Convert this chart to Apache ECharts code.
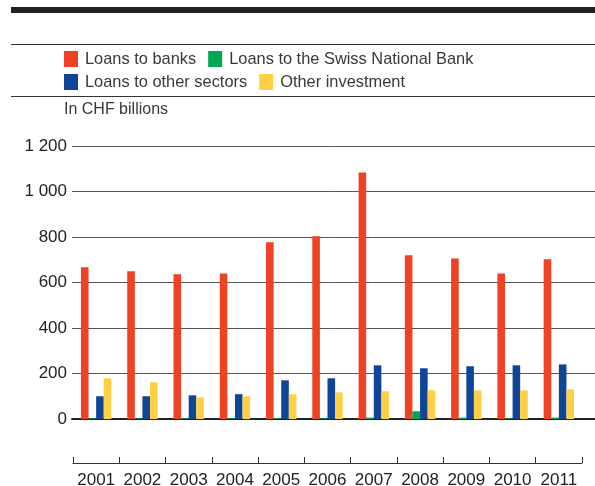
<!DOCTYPE html>
<html>
<head>
<meta charset="utf-8">
<script src="https://cdn.jsdelivr.net/npm/echarts@6/dist/echarts.min.js"></script>
<style>
  html, body { margin: 0; padding: 0; background: #fff; }
  #chart { width: 595px; height: 486px; }
</style>
</head>
<body>
<div id="chart"></div>
<script>
// Foreign assets by type, CHF billions
const years = ['2001', '2002', '2003', '2004', '2005', '2006', '2007', '2008', '2009', '2010', '2011'];
const loansToBanks = [667, 649, 636, 640, 777, 803, 1084, 720, 706, 640, 702];
const loansToSNB = [3, 3, 3, 3, 3, 3, 6, 34, 6, 3, 6];
const loansToOtherSectors = [100, 100, 104, 109, 170, 179, 236, 223, 232, 236, 240];
const otherInvestment = [179, 161, 95, 100, 109, 117, 122, 126, 126, 126, 131];
const yTicks = [0, 200, 400, 600, 800, 1000, 1200];

const FONT = '"Liberation Sans", Arial, sans-serif';
const TEXT = '#383838';

const chart = echarts.init(document.getElementById('chart'), null, { renderer: 'canvas' });

function makeBar(name, data, color) {
  return {
    name: name,
    type: 'bar',
    xAxisIndex: 1,
    yAxisIndex: 1,
    data: data,
    barWidth: 7.6,
    barGap: '0%',
    itemStyle: { color: color },
    emphasis: { disabled: true }
  };
}

const legendText = { fontFamily: FONT, fontSize: 16.4, color: TEXT, padding: [0, 0, 0, 2] };

chart.setOption({
  animation: false,
  backgroundColor: '#fff',
  textStyle: { fontFamily: FONT },
  title: {
    text: 'In CHF billions',
    left: 64,
    top: 102,
    padding: 0,
    textStyle: { fontFamily: FONT, fontSize: 16, fontWeight: 'normal', color: TEXT }
  },
  legend: [
    {
      data: ['Loans to banks', 'Loans to the Swiss National Bank'],
      left: 64, top: 51, padding: 0,
      itemWidth: 14, itemHeight: 16, itemGap: 12, icon: 'rect',
      selectedMode: false,
      textStyle: legendText
    },
    {
      data: ['Loans to other sectors', 'Other investment'],
      left: 64, top: 74, padding: 0,
      itemWidth: 14, itemHeight: 16, itemGap: 12, icon: 'rect',
      selectedMode: false,
      textStyle: legendText
    }
  ],
  graphic: [
    { type: 'rect', shape: { x: 11, y: 7, width: 584, height: 6 }, style: { fill: '#222' } },
    { type: 'line', shape: { x1: 11, y1: 44.5, x2: 595, y2: 44.5 }, style: { stroke: '#333', lineWidth: 1 } },
    { type: 'line', shape: { x1: 11, y1: 96.5, x2: 595, y2: 96.5 }, style: { stroke: '#333', lineWidth: 1 } }
  ],
  grid: [
    // value scale with gridlines running to the right edge
    { left: 72, right: 0, top: 146, bottom: 67, outerBoundsMode: 'none', containLabel: false },
    // bars and year axis
    { left: 73, right: 13, top: 146, bottom: 67, outerBoundsMode: 'none', containLabel: false }
  ],
  xAxis: [
    {
      gridIndex: 0, type: 'value', min: 0, max: 1,
      axisLine: { show: true, onZero: false, lineStyle: { color: '#222', width: 2 } },
      axisTick: { show: false }, axisLabel: { show: false }, splitLine: { show: false }
    },
    {
      gridIndex: 1, type: 'category', data: years,
      offset: 44,
      axisLine: { show: true, onZero: false, lineStyle: { color: '#333', width: 1 } },
      axisTick: { show: true, inside: true, length: 6, interval: 0, lineStyle: { color: '#333' } },
      axisLabel: { fontFamily: FONT, fontSize: 17, color: '#222', margin: 9, interval: 0 },
      splitLine: { show: false }
    }
  ],
  yAxis: [
    {
      gridIndex: 0, type: 'value', min: yTicks[0], max: yTicks[yTicks.length - 1], interval: 200,
      axisLine: { show: false }, axisTick: { show: false },
      axisLabel: {
        fontFamily: FONT, fontSize: 17, color: '#222', margin: 5,
        formatter: v => String(v).replace(/\B(?=(\d{3})+(?!\d))/g, ' ')
      },
      splitLine: { show: true, lineStyle: { color: '#555', width: 1 } }
    },
    {
      gridIndex: 1, type: 'value', min: yTicks[0], max: yTicks[yTicks.length - 1], interval: 200,
      show: false
    }
  ],
  series: [
    makeBar('Loans to banks', loansToBanks, '#EF4123'),
    makeBar('Loans to the Swiss National Bank', loansToSNB, '#00A651'),
    makeBar('Loans to other sectors', loansToOtherSectors, '#0F4597'),
    makeBar('Other investment', otherInvestment, '#FFD046')
  ]
});
</script>
</body>
</html>
